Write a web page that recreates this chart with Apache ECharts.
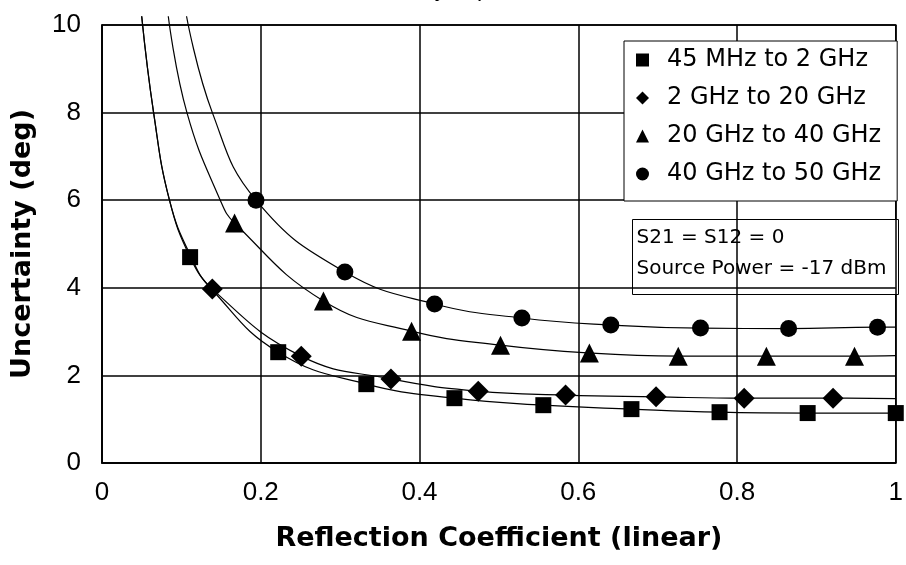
<!DOCTYPE html>
<html>
<head>
<meta charset="utf-8">
<script src="https://cdn.jsdelivr.net/npm/echarts@6/dist/echarts.min.js"></script>
<style>
  html, body { margin: 0; padding: 0; background: #fff; }
  #chart { width: 906px; height: 565px; }
</style>
</head>
<body>
<div id="chart"></div>
<script>
// ---- Data ----
const seriesNames = ['45 MHz to 2 GHz', '2 GHz to 20 GHz', '20 GHz to 40 GHz', '40 GHz to 50 GHz'];

// measured markers
const xSquare   = [0.111, 0.222, 0.333, 0.444, 0.556, 0.667, 0.778, 0.889, 1.000];
const ySquare   = [4.70, 2.53, 1.80, 1.48, 1.32, 1.23, 1.16, 1.14, 1.14];
const xDiamond  = [0.139, 0.251, 0.364, 0.474, 0.584, 0.698, 0.809, 0.921];
const yDiamond  = [3.97, 2.44, 1.92, 1.64, 1.55, 1.51, 1.48, 1.48];
const xTriangle = [0.167, 0.279, 0.390, 0.502, 0.614, 0.726, 0.837, 0.948];
const yTriangle = [5.48, 3.70, 3.01, 2.69, 2.51, 2.44, 2.44, 2.44];
const xCircle   = [0.194, 0.306, 0.419, 0.529, 0.641, 0.754, 0.865, 0.977];
const yCircle   = [6.00, 4.36, 3.63, 3.31, 3.15, 3.08, 3.07, 3.10];

// trend curves
const xSquareFit   = [0.050, 0.065, 0.085, 0.111, 0.139, 0.222, 0.333, 0.444, 0.556, 0.667, 0.778, 0.889, 1.000];
const ySquareFit   = [10.2, 8.0, 6.0, 4.70, 3.95, 2.53, 1.80, 1.48, 1.32, 1.23, 1.16, 1.14, 1.14];
const xDiamondFit  = [0.050, 0.065, 0.085, 0.112, 0.139, 0.251, 0.364, 0.474, 0.584, 0.698, 0.809, 0.921, 1.000];
const yDiamondFit  = [10.2, 8.0, 6.0, 4.72, 3.97, 2.44, 1.92, 1.64, 1.55, 1.51, 1.48, 1.48, 1.47];
const xTriangleFit = [0.0835, 0.107, 0.149, 0.167, 0.279, 0.390, 0.502, 0.614, 0.726, 0.837, 0.948, 1.000];
const yTriangleFit = [10.2, 8.0, 6.0, 5.48, 3.70, 3.01, 2.69, 2.51, 2.44, 2.44, 2.44, 2.45];
const xCircleFit   = [0.1065, 0.139, 0.194, 0.306, 0.419, 0.529, 0.641, 0.754, 0.865, 0.977, 1.000];
const yCircleFit   = [10.2, 8.0, 6.0, 4.36, 3.63, 3.31, 3.15, 3.08, 3.07, 3.10, 3.10];

const xTicks = [0, 0.2, 0.4, 0.6, 0.8, 1];
const yTicks = [0, 2, 4, 6, 8, 10];

const titleText = 'Uncertainty in phase';
const xAxisTitle = 'Reflection Coefficient (linear)';
const yAxisTitle = 'Uncertainty (deg)';
const noteLines = ['S21 = S12 = 0', 'Source Power = -17 dBm'];

// ---- Build ----
const zip = (xs, ys) => xs.map((x, i) => [x, ys[i]]);
const markerSets = [
  { x: xSquare, y: ySquare, symbol: 'rect', size: 16 },
  { x: xDiamond, y: yDiamond, symbol: 'diamond', size: 21 },
  { x: xTriangle, y: yTriangle, symbol: 'triangle', size: 19 },
  { x: xCircle, y: yCircle, symbol: 'circle', size: 17 }
];
const fitSets = [
  [xSquareFit, ySquareFit], [xDiamondFit, yDiamondFit],
  [xTriangleFit, yTriangleFit], [xCircleFit, yCircleFit]
];

const series = [];
fitSets.forEach((f, i) => {
  series.push({
    name: 'fit ' + seriesNames[i],
    type: 'line',
    data: zip(f[0], f[1]),
    smooth: 0.45,
    showSymbol: false,
    symbol: 'none',
    clip: false,
    silent: true,
    lineStyle: { color: '#000', width: 1.2 },
    z: 2
  });
});
markerSets.forEach((m, i) => {
  series.push({
    name: seriesNames[i],
    type: 'scatter',
    data: zip(m.x, m.y),
    symbol: m.symbol,
    symbolSize: m.size,
    itemStyle: { color: '#000', opacity: 1 },
    z: 3
  });
});

const chart = echarts.init(document.getElementById('chart'), null, { renderer: 'canvas' });
chart.setOption({
  animation: false,
  backgroundColor: '#fff',
  title: {
    text: titleText,
    left: 325,
    top: -27,
    textStyle: { fontFamily: 'Liberation Sans', fontSize: 23, fontWeight: 'normal', color: '#000' }
  },
  grid: {
    left: 102, right: 6, top: 25, bottom: 102,
    show: true, borderColor: '#000', borderWidth: 1.5, backgroundColor: '#fff'
  },
  legend: {
    data: seriesNames,
    orient: 'vertical',
    left: 624,
    top: 41,
    padding: [7, 16, 15, 12],
    itemGap: 14,
    itemWidth: 13,
    itemHeight: 13,
    backgroundColor: '#fff',
    borderColor: '#000',
    borderWidth: 1,
    borderRadius: 0,
    itemStyle: { opacity: 1 },
    textStyle: { fontFamily: 'DejaVu Sans', fontSize: 24, color: '#000', padding: [0, 0, 0, 13] }
  },
  xAxis: {
    type: 'value',
    min: xTicks[0], max: xTicks[xTicks.length - 1], interval: 0.2,
    name: xAxisTitle,
    nameLocation: 'middle',
    nameGap: 62,
    nameTextStyle: { fontFamily: 'DejaVu Sans', fontWeight: 'bold', fontSize: 27, color: '#000' },
    axisLine: { show: true, lineStyle: { color: '#000', width: 1.5 } },
    axisTick: { show: false },
    axisLabel: {
      margin: 17,
      fontFamily: 'Liberation Sans',
      fontSize: 26, color: '#000',
      formatter: v => String(Math.round(v * 10) / 10)
    },
    splitLine: { show: true, lineStyle: { color: '#000', width: 1.5 } }
  },
  yAxis: {
    type: 'value',
    min: yTicks[0], max: yTicks[yTicks.length - 1], interval: 2,
    name: yAxisTitle,
    nameLocation: 'middle',
    nameGap: 66,
    nameTextStyle: { fontFamily: 'DejaVu Sans', fontWeight: 'bold', fontSize: 27, color: '#000' },
    axisLine: { show: true, lineStyle: { color: '#000', width: 1.5 } },
    axisTick: { show: false },
    axisLabel: {
      margin: 21,
      fontFamily: 'Liberation Sans',
      fontSize: 26, color: '#000'
    },
    splitLine: { show: true, lineStyle: { color: '#000', width: 1.5 } }
  },
  graphic: [
    {
      type: 'group',
      left: 632, top: 219,
      z: 100,
      children: [
        { type: 'rect', shape: { x: 0, y: 0, width: 266, height: 75 },
          style: { fill: '#fff', stroke: '#000', lineWidth: 1 } },
        { type: 'text', x: 4, y: 8,
          style: { text: noteLines[0], font: '20px "DejaVu Sans"', fill: '#000' } },
        { type: 'text', x: 4, y: 39,
          style: { text: noteLines[1], font: '20px "DejaVu Sans"', fill: '#000' } }
      ]
    }
  ],
  series: series
});
</script>
</body>
</html>
